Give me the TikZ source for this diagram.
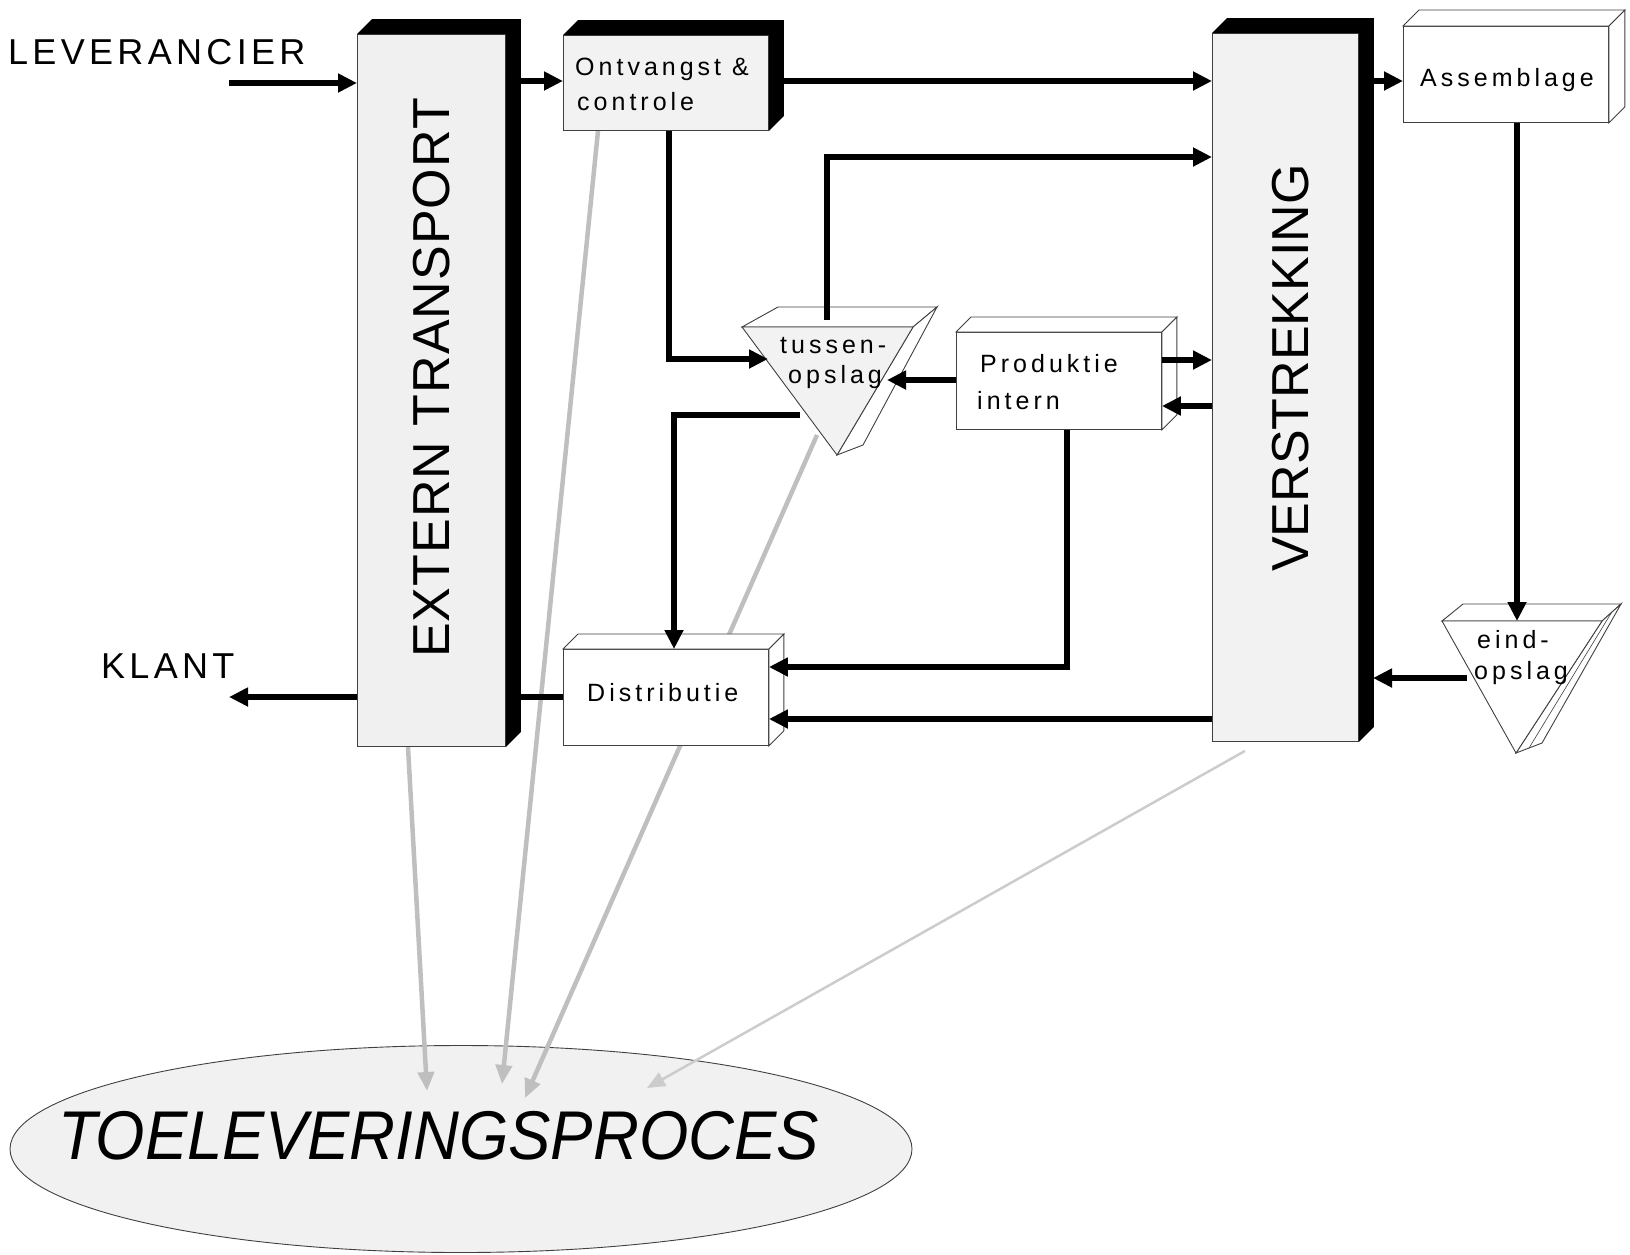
\documentclass[tikz,border=0pt]{standalone}
\usepackage{fontspec}
\usepackage{graphicx}
\setmainfont{Liberation Sans}
\newfontfamily\boxfont[LetterSpace=16]{Liberation Sans}
\newfontfamily\sidefont[LetterSpace=12]{Liberation Sans}
\newfontfamily\barfont[LetterSpace=2]{Liberation Sans}
\usetikzlibrary{arrows.meta,calc,shapes.geometric}

% black depth faces of a solid block
\newcommand\solidside[2]{%
  \fill (#1.north west) -- ++(#2,-#2) -- ($(#1.north east)+(#2,-#2)$)
        -- ($(#1.south east)+(#2,-#2)$) -- (#1.south east) -- (#1.north east) -- cycle;}
% outlined depth faces of an open block
\newcommand\openside[2]{%
  \filldraw[face, fill=white] (#1.north west) -- ++(#2,-#2) -- ($(#1.north east)+(#2,-#2)$) -- (#1.north east) -- cycle;
  \filldraw[face, fill=white] (#1.north east) -- ++(#2,-#2) -- ($(#1.south east)+(#2,-#2)$) -- (#1.south east) -- cycle;}

\tikzset{
  face/.style={draw=black!75, line width=0.9pt},
  block/.style={face, rectangle, inner sep=0pt, anchor=north west},
  flow/.style={line width=6pt, -{Triangle[length=19pt,width=18pt]}},
  plainflow/.style={line width=6pt},
  feed/.style={line width=4.5pt, draw=gray!50, -{Triangle[length=19pt,width=16pt]}},
  faintfeed/.style={line width=2.5pt, draw=gray!40, -{Triangle[length=18pt,width=15pt]}},
  lbl/.style={anchor=base west, inner sep=0pt, font=\boxfont\fontsize{25}{30}\selectfont},
  biglbl/.style={anchor=base west, inner sep=0pt, font=\sidefont\fontsize{36}{40}\selectfont},
  barlbl/.style={anchor=base, inner sep=0pt, rotate=90, font=\barfont\fontsize{52}{60}\selectfont},
}

\begin{document}
\begin{tikzpicture}[x=1pt, y=-1pt]
\useasboundingbox (0,0) rectangle (1630,1254);

% result ellipse
\node[ellipse, face, fill=gray!11, minimum width=902pt, minimum height=207pt] (proc) at (461,1149) {};

% tussenopslag corners
\coordinate (tusL) at (742,327);
\coordinate (tusR) at (913,327);
\coordinate (tusB) at (837,455);
\coordinate (tusBL) at (778,307);
\coordinate (tusBR) at (937,307);
\coordinate (tusBB) at (863,445);
\coordinate (tusOut) at (817,435);
% eindopslag corners
\coordinate (eindL) at (1442,621);
\coordinate (eindR) at (1602,621);
\coordinate (eindB) at (1516,753);
\coordinate (eindBL) at (1463,604);
\coordinate (eindBR) at (1621,604);
\coordinate (eindBB) at (1542,743);

% blocks
\node[block, fill=gray!12, minimum width=148pt, minimum height=712pt] (ext) at (357,34) {};
\node[block, fill=gray!10, minimum width=205pt, minimum height=95pt] (ont) at (563,35) {};
\node[block, fill=gray!10, minimum width=146pt, minimum height=708pt] (ver) at (1212,33) {};
\node[block, fill=white, minimum width=205pt, minimum height=96pt] (ass) at (1403,26) {};
\node[block, fill=white, minimum width=205pt, minimum height=96pt] (dist) at (563,649) {};
\node[block, fill=white, minimum width=205pt, minimum height=97pt] (prod) at (956,332) {};

% links to the supply process (behind the blocks)
\draw[feed] (ext.south -| 408,746) -- (427,1091);
\draw[feed] (ont.south -| 598,0) -- (502,1084);
\draw[feed] (tusOut) -- (525,1098);
\draw[faintfeed] (ver.south -| 1245,0) ++(0,9) -- (647,1088);

% redraw blocks on top of the links
\node[block, fill=gray!12, minimum width=148pt, minimum height=712pt] at (357,34) {};
\node[block, fill=gray!10, minimum width=205pt, minimum height=95pt] at (563,35) {};
\node[block, fill=gray!10, minimum width=146pt, minimum height=708pt] at (1212,33) {};
\node[block, fill=white, minimum width=205pt, minimum height=96pt] at (563,649) {};
\solidside{ext}{15}
\solidside{ont}{15}
\solidside{ver}{15}
\openside{ass}{16}
\openside{dist}{15}
\openside{prod}{15}

% storage triangles
\filldraw[face, fill=white] (tusL) -- (tusBL) -- (tusBR) -- (tusR) -- cycle;
\filldraw[face, fill=white] (tusR) -- (tusBR) -- (tusBB) -- (tusB) -- cycle;
\filldraw[face, fill=gray!10] (tusL) -- (tusR) -- (tusB) -- cycle;
\filldraw[face, fill=white] (eindL) -- (eindBL) -- (eindBR) -- (eindR) -- cycle;
\filldraw[face, fill=white] (eindR) -- (eindBR) -- (eindBB) -- (eindB) -- cycle;
\draw[face, line width=0.6pt] ($(eindR)!0.5!(eindBR)$) -- ($(eindB)!0.5!(eindBB)$);
\filldraw[face, fill=white] (eindL) -- (eindR) -- (eindB) -- cycle;

% material flows
\coordinate (levStart) at (229,83);
\coordinate (klantEnd) at (229,697);
\draw[flow] (levStart) -- (ext.west |- levStart);
\draw[flow] (ext.east |- 0,81) -- (ont.west |- 0,81);
\draw[flow] (ont.east |- 0,81) -- (ver.west |- 0,81);
\draw[flow] (ver.east |- 0,81) ++(15,0) -- (ass.west |- 0,81);
\draw[flow] (ont.south -| 669,0) -- (669,359) -- (768,359);
\draw[flow] (827,320) -- (827,157) -- (ver.west |- 0,157);
\draw[flow] (800,415) -- (674,415) -- (dist.north -| 674,0);
\draw[flow] (prod.west |- 0,380) -- (887,380);
\draw[flow] (prod.east |- 0,360) -- (ver.west |- 0,360);
\draw[flow] (ver.west |- 0,406) -- (prod.east |- 0,406);
\draw[flow] (prod.south -| 1067,0) -- (1067,667) -- (dist.east |- 0,667);
\draw[flow] (ver.west |- 0,719) -- (dist.east |- 0,719);
\draw[flow] (ass.south -| 1517,0) -- (1517,621);
\draw[flow] (1467,678) -- (1373,678);
\draw[plainflow] (dist.west |- 0,697) -- (ext.east |- 0,697);
\draw[flow] (ext.west |- klantEnd) -- (klantEnd);

% labels
\node[biglbl] (lev) at (8,64) {LEVERANCIER};
\node[biglbl] (klant) at (101,678) {KLANT};
\node[barlbl] (extText) at (449,378) {EXTERN TRANSPORT};
\node[barlbl, font=\setmainfont{Liberation Sans}\fontsize{52}{60}\selectfont] (verText) at (1308,368) {VERSTREKKING};
\node[lbl] (ont1) at (575,75) {Ontvangst \&};
\node[lbl] (ont2) at (577,110) {controle};
\node[lbl] (dist1) at (587,701) {Distributie};
\node[lbl] (prod1) at (980,372) {Produktie};
\node[lbl] (prod2) at (977,409) {intern};
\node[lbl] (ass1) at (1420,86) {Assemblage};
\node[lbl] (tus1) at (780,353) {tussen-};
\node[lbl] (tus2) at (788,383) {opslag};
\node[lbl] (eind1) at (1477,648) {eind-};
\node[lbl] (eind2) at (1474,679) {opslag};
\node[anchor=base west, inner sep=0pt, font=\itshape\fontsize{69}{72}\selectfont] (procText) at (58,1159)
  {\scalebox{0.92}[1]{TOELEVERINGSPROCES}};
\end{tikzpicture}
\end{document}
